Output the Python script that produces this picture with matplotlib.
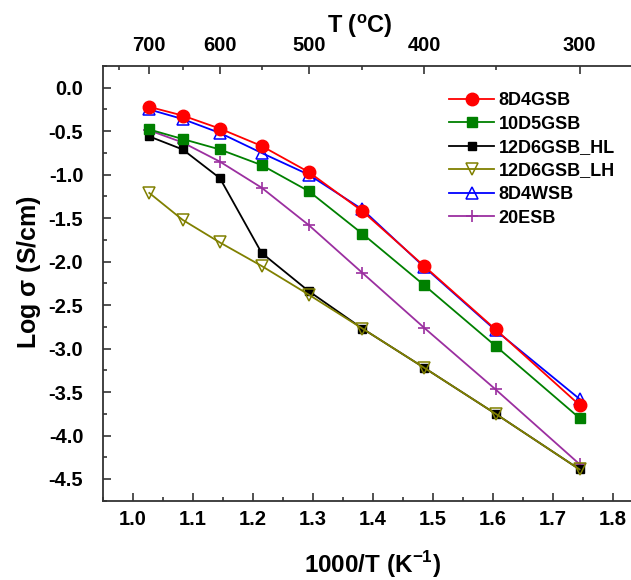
import numpy as np
import matplotlib
matplotlib.use('Agg')
import matplotlib.pyplot as plt

plt.rcParams['font.family'] = ['Liberation Sans', 'DejaVu Sans']
plt.rcParams['font.weight'] = 'bold'
plt.rcParams['mathtext.fontset'] = 'custom'
plt.rcParams['mathtext.rm'] = 'Liberation Sans'
plt.rcParams['mathtext.bf'] = 'Liberation Sans:bold'

# measurement temperatures (deg C)
temp_C = [700, 650, 600, 550, 500, 450, 400, 350, 300]

# log conductivity (S/cm) for each sample
s_8D4GSB = [-0.22, -0.32, -0.47, -0.67, -0.97, -1.42, -2.05, -2.78, -3.65]
s_10D5GSB = [-0.48, -0.59, -0.71, -0.89, -1.19, -1.68, -2.27, -2.97, -3.80]
s_12D6GSB_HL = [-0.56, -0.71, -1.04, -1.90, -2.34, -2.77, -3.22, -3.75, -4.39]
s_12D6GSB_LH = [-1.21, -1.52, -1.78, -2.05, -2.38, -2.77, -3.22, -3.75, -4.39]
s_8D4WSB = [-0.25, -0.36, -0.52, -0.75, -1.00, -1.40, -2.06, -2.79, -3.58]
s_20ESB = [-0.49, -0.63, -0.85, -1.15, -1.58, -2.13, -2.76, -3.47, -4.33]

inv_T = 1000.0 / (np.array(temp_C) + 273.15)

fig = plt.figure(figsize=(6.31, 5.80), dpi=100)
ax = fig.add_axes([0.1628, 0.1367, 0.8558, 0.7495])

lw = 1.3
ax.plot(inv_T, s_8D4GSB, '-o', color='#FF0000', lw=lw, ms=9, label='8D4GSB', zorder=6)
ax.plot(inv_T, s_10D5GSB, '-s', color='#008000', lw=lw, ms=6.5, label='10D5GSB', zorder=4)
ax.plot(inv_T, s_12D6GSB_HL, '-s', color='#000000', lw=lw, ms=6, label='12D6GSB_HL', zorder=3.5)
ax.plot(inv_T, s_12D6GSB_LH, '-v', color='#808000', lw=lw, ms=9, mfc='none', mew=1.1,
        label='12D6GSB_LH', zorder=4)
ax.plot(inv_T, s_8D4WSB, '-^', color='#0000FF', lw=lw, ms=8, mfc='none', mew=1.1,
        label='8D4WSB', zorder=5)
ax.plot(inv_T, s_20ESB, '-+', color='#9B2FA0', lw=lw, ms=9, mew=1.2, label='20ESB', zorder=3)

ax.set_xlim(0.95, 1.85)
ax.set_ylim(-4.75, 0.25)
ax.set_xticks(np.arange(1.0, 1.81, 0.1))
ax.set_xticks(np.arange(0.95, 1.85, 0.05), minor=True)
ax.set_yticks(np.arange(-4.5, 0.01, 0.5))
ax.set_yticks(np.arange(-4.75, 0.26, 0.25), minor=True)
ax.xaxis.set_major_formatter(plt.FormatStrFormatter('%.1f'))
ax.yaxis.set_major_formatter(plt.FormatStrFormatter('%.1f'))

for sp in ax.spines.values():
    sp.set_linewidth(1.3)
    sp.set_color('#333333')
ax.spines['top'].set_visible(False)
ax.tick_params(which='both', direction='in', width=1.2, labelsize=14.5, color='#333333',
               top=False, right=False)
ax.tick_params(which='major', length=6)
ax.tick_params(which='minor', length=3)
ax.tick_params(axis='x', which='major', pad=7)
ax.tick_params(axis='y', which='major', pad=14)
for lab in ax.get_xticklabels() + ax.get_yticklabels():
    lab.set_fontweight('bold')

ax.set_xlabel(r'1000/T (K$^\mathbf{-1}$)', fontsize=17.5, fontweight='bold', labelpad=14)
ax.set_ylabel(r'Log $\mathrm{σ}$ (S/cm)', fontsize=18, fontweight='bold')
ax.yaxis.set_label_coords(-0.111, 0.526)

# temperature scale on the top axis
top = ax.secondary_xaxis('top', functions=(lambda x: 1000.0 / x - 273.15,
                                           lambda t: 1000.0 / (t + 273.15)))
top.set_xticks([700, 600, 500, 400, 300])
top.set_xticks([750, 650, 550, 450, 350], minor=True)
top.spines['top'].set_linewidth(1.3)
top.spines['top'].set_color('#333333')
top.tick_params(which='both', direction='in', width=1.2, labelsize=14.5, color='#333333')
top.tick_params(which='major', length=6, pad=8)
top.tick_params(which='minor', length=3)
for lab in top.get_xticklabels():
    lab.set_fontweight('bold')
top.set_xlabel(r'T ($^\mathbf{o}$C)', fontsize=17, fontweight='bold')
top.xaxis.set_label_coords(360 / 631, 1 - 33 / 580, transform=fig.transFigure)

leg = ax.legend(loc='upper left', bbox_to_anchor=(440 / 631, 1 - 83 / 580),
                bbox_transform=fig.transFigure, frameon=False, borderpad=0,
                handlelength=2.5, handletextpad=0.25, labelspacing=0.36,
                prop={'size': 13, 'weight': 'bold'})

fig.savefig('out.png', dpi=100)
